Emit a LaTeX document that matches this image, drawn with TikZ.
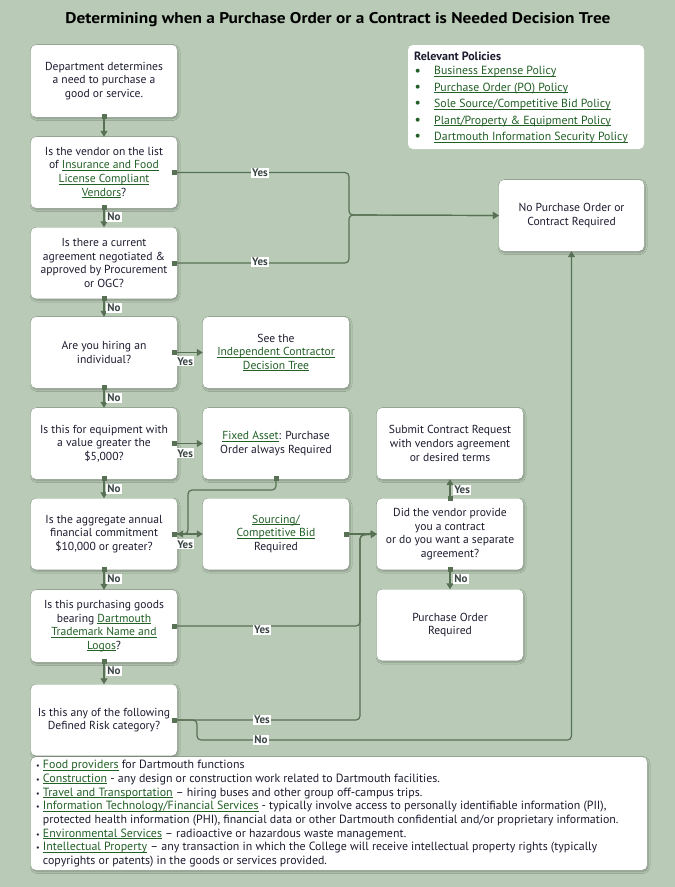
\documentclass[tikz,border=0pt]{standalone}
\usepackage{fontspec}
\setmainfont{PT Sans}
\usetikzlibrary{arrows.meta,shadows.blur,calc}
\definecolor{bg}{RGB}{185,203,183}
\definecolor{lc}{RGB}{88,112,84}
\definecolor{tx}{RGB}{28,28,48}
\definecolor{linkc}{RGB}{34,96,38}
\definecolor{labc}{RGB}{58,70,68}
\newcommand\lk[1]{\textcolor{linkc}{\setbox0\hbox{#1}\rlap{\rule[-1.8pt]{\wd0}{0.7pt}}\box0}}
\tikzset{
  box/.style={fill=white, rounded corners=5pt, minimum width=146pt, minimum height=71pt,
    align=center, text=tx, inner sep=2pt, font=\fontsize{11.6}{13.6}\selectfont,
    blur shadow={shadow xshift=1pt, shadow yshift=-1.5pt, shadow blur steps=6, shadow opacity=30}},
  panel/.style={fill=white, rounded corners=5pt, inner sep=0pt},
  conn/.style={draw=lc, line width=1.2pt, rounded corners=4pt,
    {Square[length=5pt,width=5pt]}-{Triangle[length=6pt,width=7pt]}},
  lab/.style={fill=white, inner sep=1.2pt, text=labc, font=\bfseries\fontsize{11}{11}\selectfont},
  txt/.style={inner sep=0pt, text=tx, anchor=west},
}
\begin{document}
\begin{tikzpicture}[x=1pt,y=-1pt]
\fill[bg] (0,0) rectangle (675,887);
\useasboundingbox (0,0) rectangle (675,887);
\node[inner sep=0pt, text=black] (title) at (338,20)
  {\resizebox{545pt}{\height}{\bfseries\fontsize{15.5}{18}\selectfont Determining when a Purchase Order or a Contract is Needed Decision Tree}};

% left column
\node[box, minimum height=72pt] (b1) at (104,81) {Department determines\\a need to purchase a\\good or service.};
\node[box] (b2) at (104,172.5) {Is the vendor on the list\\of \lk{Insurance and Food}\\\lk{License Compliant}\\\lk{Vendors}?};
\node[box] (b3) at (104,263) {Is there a current\\agreement negotiated \&\\approved by Procurement\\or OGC?};
\node[box] (b4) at (104,352.5) {Are you hiring an\\individual?};
\node[box] (b5) at (104,443.5) {Is this for equipment with\\a value greater the\\\$5,000?};
\node[box] (b6) at (104,534) {Is the aggregate annual\\financial commitment\\\$10,000 or greater?};
\node[box, minimum height=72pt] (b7) at (104,626) {Is this purchasing goods\\bearing \lk{Dartmouth}\\\lk{Trademark Name and}\\\lk{Logos}?};
\node[box] (b8) at (104,720) {Is this any of the following\\Defined Risk category?};

% middle column
\node[box] (r4) at (276,352.5) {See the\\\lk{Independent Contractor}\\\lk{Decision Tree}};
\node[box] (r5) at (276,443.5) {\lk{Fixed Asset}: Purchase\\Order always Required};
\node[box] (r6) at (276,534) {\lk{Sourcing/}\\\lk{Competitive Bid}\\Required};

% right column
\node[box] (s1) at (450,443.5) {Submit Contract Request\\with vendors agreement\\or desired terms};
\node[box] (s2) at (450,534) {Did the vendor provide\\you a contract\\or do you want a separate\\agreement?};
\node[box] (s3) at (450,625) {Purchase Order\\Required};
\node[box, minimum width=145pt] (nopo) at (571.5,215.5) {No Purchase Order or\\Contract Required};

% policies
\node[panel, minimum width=236pt, minimum height=104pt] (pol) at (526,97) {};
\node[txt, font=\bfseries\fontsize{12}{13}\selectfont] (polt) at (414,56) {Relevant Policies};
\foreach \t [count=\i] in {Business Expense Policy, Purchase Order (PO) Policy, Sole Source/Competitive Bid Policy, Plant/Property \& Equipment Policy, Dartmouth Information Security Policy}{
  \node[txt, text=linkc, font=\fontsize{14}{14}\selectfont] (pb\i) at (414.5,{72+16.4*(\i-1)}) {•};
  \node[txt, font=\fontsize{11.8}{13}\selectfont] (p\i) at (434,{72+16.4*(\i-1)}) {\lk{\t}};
}

% connectors
\coordinate (j1) at (349,215);
\coordinate (j2) at (360,535);
\draw[conn] ([yshift=3pt]b1.south) -- (b2.north);
\draw[conn] ([xshift=-5pt]b2.east) -| (j1) -- (nopo.west);
\draw[conn] ([xshift=-5pt]b3.east) -| (j1) -- (nopo.west);
\draw[conn] ([yshift=3pt]b2.south) -- (b3.north);
\draw[conn] ([yshift=3pt]b3.south) -- (b4.north);
\draw[conn] ([xshift=-5pt]b4.east) -- (r4.west);
\draw[conn] ([yshift=3pt]b4.south) -- (b5.north);
\draw[conn] ([xshift=-5pt]b5.east) -- (r5.west);
\draw[conn] ([yshift=3pt]b5.south) -- (b6.north);
\draw[conn] ([yshift=3pt]r5.south) |- (188,490) |- (b6.east);
\draw[conn] ([xshift=-5pt]b6.east) -- (r6.west);
\draw[conn] ([yshift=3pt]b6.south) -- (b7.north);
\draw[conn] ([xshift=-5pt]r6.east) -- (s2.west);
\draw[conn] ([xshift=-5pt]b7.east) -| (j2) -- (s2.west);
\draw[conn] ([xshift=-5pt]b8.east) -| (j2) -- (s2.west);
\draw[conn] ([yshift=3pt]b7.south) -- (b8.north);
\draw[conn] ([xshift=-5pt]b8.east) -| (197,740) -| (nopo.south);
\draw[conn] ([yshift=-3pt]s2.north) -- (s1.south);
\draw[conn] ([yshift=3pt]s2.south) -- (s3.north);

% labels
\node[lab] (y1) at (260,173) {Yes};
\node[lab] (y2) at (260,262) {Yes};
\node[lab, anchor=west] (n1) at (106,217) {No};
\node[lab, anchor=west] (n2) at (106,308) {No};
\node[lab, anchor=north west] (y3) at (176,356) {Yes};
\node[lab, anchor=west] (n3) at (106,398) {No};
\node[lab, anchor=north west] (y4) at (176,448) {Yes};
\node[lab, anchor=west] (n4) at (106,489) {No};
\node[lab, anchor=north west] (y5) at (176,539) {Yes};
\node[lab, anchor=west] (n5) at (106,579) {No};
\node[lab] (y6) at (262,630) {Yes};
\node[lab, anchor=west] (n6) at (106,671) {No};
\node[lab] (y7) at (262,720) {Yes};
\node[lab] (n7) at (261,740) {No};
\node[lab, anchor=west] (y8) at (453,490) {Yes};
\node[lab, anchor=west] (n8) at (453,579) {No};

% list
\node[panel, minimum width=616pt, minimum height=113pt,
  blur shadow={shadow xshift=1pt, shadow yshift=-1.5pt, shadow blur steps=6, shadow opacity=30}] (lst) at (339,813.5) {};
\node[inner sep=0pt, anchor=north west, align=left, text=tx, font=\fontsize{11.9}{13.7}\selectfont] (lsttxt) at (36,760)
{{\footnotesize•} \lk{Food providers} for Dartmouth functions\\
{\footnotesize•} \lk{Construction} - any design or construction work related to Dartmouth facilities.\\
{\footnotesize•} \lk{Travel and Transportation} – hiring buses and other group off-campus trips.\\
{\footnotesize•} \lk{Information Technology/Financial Services} - typically involve access to personally identifiable information (PII),\\
\phantom{{\footnotesize•} }protected health information (PHI), financial data or other Dartmouth confidential and/or proprietary information.\\
{\footnotesize•} \lk{Environmental Services} – radioactive or hazardous waste management.\\
{\footnotesize•} \lk{Intellectual Property} – any transaction in which the College will receive intellectual property rights (typically\\
\phantom{{\footnotesize•} }copyrights or patents) in the goods or services provided.};
\end{tikzpicture}
\end{document}
